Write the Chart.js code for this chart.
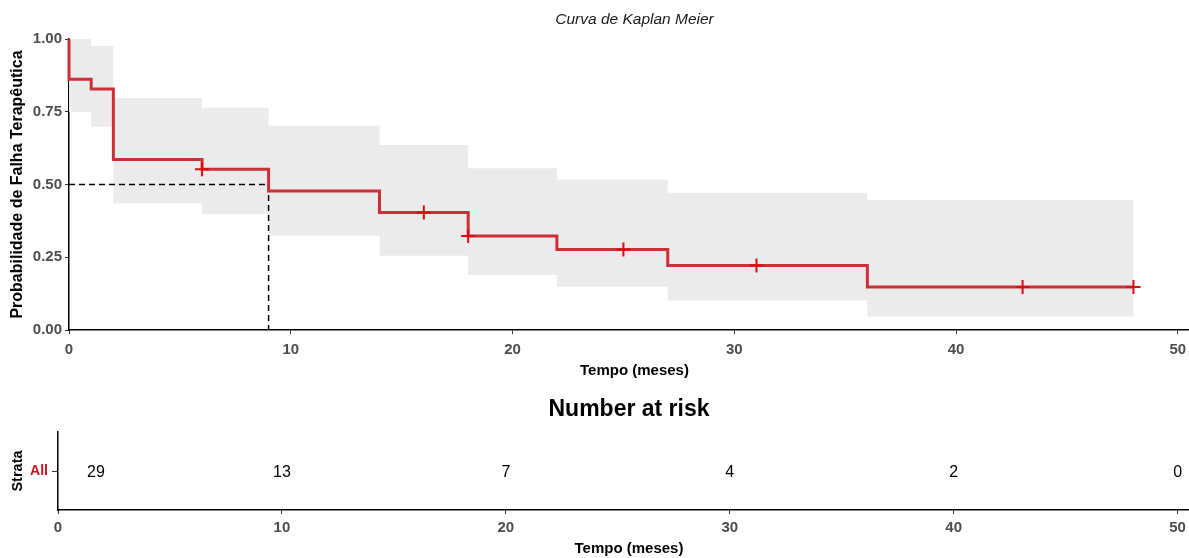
<!DOCTYPE html>
<html>
<head>
<meta charset="utf-8">
<title>Curva de Kaplan Meier</title>
<script src="https://cdn.jsdelivr.net/npm/chart.js@4.4.1/dist/chart.umd.min.js"></script>
<style>
  html, body { margin: 0; padding: 0; background: #fff; }
  body { width: 1189px; height: 558px; position: relative; overflow: hidden; }
  #kmChart { position: absolute; left: 0; top: 0; }
  #riskChart { position: absolute; left: 0; top: 385px; }
</style>
</head>
<body>
<!-- the panels run a little past the right edge of the page -->
<canvas id="kmChart" width="1200" height="385"></canvas>
<canvas id="riskChart" width="1200" height="173"></canvas>
<script>
// Kaplan-Meier estimate, time in months
const stepTimes = [0, 0, 1, 2, 6, 9, 14, 18, 22, 27, 36, 48];
const stepSurv = [1.0, 0.862, 0.828, 0.586, 0.552, 0.478, 0.404, 0.323, 0.277, 0.222, 0.148, 0.148];

// 95% confidence band, value holds from each time to the next
const bandTimes = [0, 1, 2, 6, 9, 14, 18, 22, 27, 36, 48];
const bandUpper = [1.0, 0.976, 0.797, 0.764, 0.702, 0.636, 0.556, 0.517, 0.472, 0.447, 0.447];
const bandLower = [0.749, 0.699, 0.435, 0.398, 0.324, 0.255, 0.189, 0.149, 0.101, 0.046, 0.046];

// censored patients
const censorTimes = [6, 16, 18, 25, 31, 43, 48];
const censorSurv = [0.552, 0.404, 0.323, 0.277, 0.222, 0.148, 0.148];

// median guide line
const medianTime = 9;
const medianLevel = 0.5;

const timeTicks = [0, 10, 20, 30, 40, 50];
const survTicks = [0, 0.25, 0.5, 0.75, 1.0];

// number at risk table
const strata = ['All'];
const riskTimes = [0, 10, 20, 30, 40, 50];
const riskCounts = [29, 13, 7, 4, 2, 0];

const curveColor = '#cc2f35';
const crossColor = '#dd0a14';
const bandColor = '#ebebeb';
const tickGrey = '#4d4d4d';
const FONT = "'Liberation Sans', Arial, Helvetica, sans-serif";

Chart.defaults.font.family = FONT;
Chart.defaults.color = '#000';

function xy(xs, ys) {
    return xs.map((x, i) => ({ x: x, y: ys[i] }));
}

function timeAxis(height, tickPad, titleBottom) {
    return {
        type: 'linear',
        min: 0,
        max: 51,
        afterBuildTicks: s => { s.ticks = timeTicks.map(v => ({ value: v })); },
        afterFit: s => {
            s.height = height;
            s.paddingLeft = 0;
            s.paddingRight = 0;
        },
        grid: { display: true, drawOnChartArea: false, drawTicks: true, tickLength: 4, color: '#333', lineWidth: 1 },
        border: { display: true, color: '#000', width: 1.5 },
        ticks: { color: tickGrey, font: { size: 15, weight: 'bold' }, padding: tickPad, maxRotation: 0, autoSkip: false },
        title: { display: true, text: 'Tempo (meses)', color: '#000', font: { size: 15, weight: 'bold' }, padding: { top: 0, bottom: titleBottom } }
    };
}

// plot title above the curve
const kmTitle = {
    id: 'kmTitle',
    afterDraw(chart) {
        const ctx = chart.ctx;
        const area = chart.chartArea;
        ctx.save();
        ctx.font = 'italic 15.5px ' + FONT;
        ctx.fillStyle = '#1a1a1a';
        ctx.textAlign = 'center';
        ctx.textBaseline = 'middle';
        ctx.fillText('Curva de Kaplan Meier', (area.left + area.right) / 2, 20);
        ctx.restore();
    }
};

new Chart(document.getElementById('kmChart'), {
    type: 'line',
    data: {
        datasets: [
            {
                type: 'scatter',
                label: 'Censura',
                data: xy(censorTimes, censorSurv),
                pointStyle: 'cross',
                pointRadius: 7,
                borderColor: crossColor,
                borderWidth: 2,
                showLine: false,
                clip: false,
                order: 0
            },
            {
                label: 'All',
                data: xy(stepTimes, stepSurv),
                stepped: true,
                borderColor: curveColor,
                borderWidth: 3,
                pointRadius: 0,
                fill: false,
                clip: false,
                order: 1
            },
            {
                label: 'Mediana',
                data: [{ x: 0, y: medianLevel }, { x: medianTime, y: medianLevel }, { x: medianTime, y: 0 }],
                borderColor: '#000',
                borderWidth: 1.5,
                borderDash: [6, 4],
                pointRadius: 0,
                fill: false,
                order: 2
            },
            {
                label: 'IC superior',
                data: xy(bandTimes, bandUpper),
                stepped: true,
                borderWidth: 0,
                borderColor: 'rgba(0,0,0,0)',
                backgroundColor: bandColor,
                pointRadius: 0,
                fill: '+1',
                order: 3
            },
            {
                label: 'IC inferior',
                data: xy(bandTimes, bandLower),
                stepped: true,
                borderWidth: 0,
                borderColor: 'rgba(0,0,0,0)',
                pointRadius: 0,
                fill: false,
                order: 4
            }
        ]
    },
    options: {
        responsive: false,
        animation: false,
        layout: { padding: { top: 39, right: 0, bottom: 0, left: 0 }, autoPadding: false },
        plugins: { legend: { display: false }, tooltip: { enabled: false } },
        scales: {
            x: timeAxis(55, 7, 5),
            y: {
                min: 0,
                max: 1,
                afterBuildTicks: s => { s.ticks = survTicks.map(v => ({ value: v })); },
                afterFit: s => { s.width = 69; },
                grid: { display: true, drawOnChartArea: false, drawTicks: true, tickLength: 4, color: '#333', lineWidth: 1 },
                border: { display: true, color: '#000', width: 1.5 },
                ticks: { color: tickGrey, font: { size: 15, weight: 'bold' }, padding: 3, callback: v => v.toFixed(2) },
                title: { display: true, text: 'Probabilidade de Falha Terapêutica', color: '#000', font: { size: 16, weight: 'bold' }, padding: { top: 8, bottom: 0 } }
            }
        }
    },
    plugins: [kmTitle]
});

// counts at risk written at each break time
const riskLabels = {
    id: 'riskLabels',
    afterDatasetsDraw(chart) {
        const ctx = chart.ctx;
        const area = chart.chartArea;
        const xs = chart.scales.x;
        const ys = chart.scales.y;
        ctx.save();
        ctx.font = '16px ' + FONT;
        ctx.fillStyle = '#000';
        ctx.textAlign = 'center';
        ctx.textBaseline = 'middle';
        riskTimes.forEach((t, i) => {
            const px = Math.max(xs.getPixelForValue(t), area.left + 38);
            ctx.fillText(String(riskCounts[i]), px, ys.getPixelForValue(0) + 1.5);
        });
        ctx.font = 'bold 23px ' + FONT;
        ctx.fillText('Number at risk', (area.left + area.right) / 2, 25);
        ctx.restore();
    }
};

new Chart(document.getElementById('riskChart'), {
    type: 'scatter',
    data: {
        labels: strata,
        datasets: [{
            label: 'Number at risk',
            data: riskTimes.map(t => ({ x: t, y: strata[0] })),
            pointRadius: 0
        }]
    },
    options: {
        responsive: false,
        animation: false,
        layout: { padding: { top: 47, right: 0, bottom: 0, left: 0 }, autoPadding: false },
        plugins: { legend: { display: false }, tooltip: { enabled: false } },
        scales: {
            x: timeAxis(48, 5, 0),
            y: {
                type: 'category',
                labels: strata,
                offset: true,
                afterFit: s => { s.width = 58; },
                grid: { display: true, drawOnChartArea: false, drawTicks: true, tickLength: 6, color: '#333', lineWidth: 1, offset: false },
                border: { display: true, color: '#000', width: 1.5 },
                ticks: { color: '#d0101c', font: { size: 14, weight: 'bold' }, padding: 4 },
                title: { display: true, text: 'Strata', color: '#000', font: { size: 14.5, weight: 'bold' }, padding: { top: 9, bottom: 0 } }
            }
        }
    },
    plugins: [riskLabels]
});
</script>
</body>
</html>
